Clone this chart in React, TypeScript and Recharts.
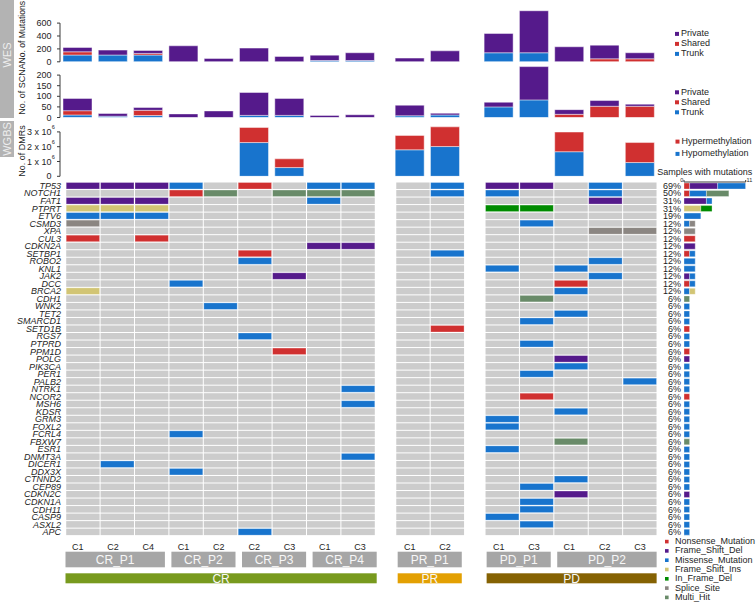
import React from 'react';
import { BarChart, Bar, XAxis, YAxis, ReferenceLine, ScatterChart, Scatter } from 'recharts';

const FONT = '"Liberation Sans", Arial, Helvetica, sans-serif';
const TEXT = '#1e1e1e';
const AXIS = '#3a3a3a';

// ---------------- data ----------------
const sampleLabels = ['C1', 'C2', 'C4', 'C1', 'C2', 'C2', 'C3', 'C1', 'C3', 'C1', 'C2', 'C1', 'C3', 'C1', 'C2', 'C3'];
const patientNames = ['CR_P1', 'CR_P2', 'CR_P3', 'CR_P4', 'PR_P1', 'PD_P1', 'PD_P2'];
const patientSizes = [3, 2, 2, 2, 2, 2, 3];
const responseNames = ['CR', 'PR', 'PD'];
const responseSizes = [9, 2, 5];
const responseColors = ['#789A1E', '#E3A002', '#856203'];

const wesTrunk = [105, 105, 105, 0, 0, 0, 0, 20, 20, 0, 0, 140, 140, 0, 0, 0];
const wesShared = [50, 0, 25, 0, 0, 0, 0, 0, 0, 0, 0, 0, 0, 0, 46, 46];
const wesPrivate = [67, 76, 46, 248, 52, 212, 83, 83, 120, 57, 170, 299, 651, 233, 212, 94];

const scnaTrunk = [12, 6, 9, 0, 0, 10, 10, 0, 0, 8, 12, 50, 83, 0, 0, 0];
const scnaShared = [20, 0, 25, 0, 0, 0, 0, 0, 0, 0, 0, 0, 0, 15, 53, 53];
const scnaPrivate = [58, 13, 13, 17, 31, 108, 80, 10, 13, 50, 8, 22, 157, 22, 27, 10];

const dmrHypo = [0, 0, 0, 0, 0, 2.28e6, 0.59e6, 0, 0, 1.79e6, 2.01e6, 0, 0, 1.66e6, 0, 0.93e6];
const dmrHyper = [0, 0, 0, 0, 0, 1.02e6, 0.59e6, 0, 0, 0.97e6, 1.33e6, 0, 0, 1.33e6, 0, 1.35e6];

const genes = [
  'TP53', 'NOTCH1', 'FAT1', 'PTPRT', 'ETV6', 'CSMD3', 'XPA', 'CUL3', 'CDKN2A', 'SETBP1', 'ROBO2', 'KNL1',
  'JAK2', 'DCC', 'BRCA2', 'CDH1', 'WNK2', 'TET2', 'SMARCD1', 'SETD1B', 'RGS7', 'PTPRD', 'PPM1D', 'POLG',
  'PIK3CA', 'PER1', 'PALB2', 'NTRK1', 'NCOR2', 'MSH6', 'KDSR', 'GRM3', 'FOXL2', 'FCRL4', 'FBXW7', 'ESR1',
  'DNMT3A', 'DICER1', 'DDX3X', 'CTNND2', 'CEP89', 'CDKN2C', 'CDKN1A', 'CDH11', 'CASP9', 'ASXL2', 'APC',
];

// one string per gene, one character per sample ('.' = no mutation)
const mutationRows = [
  'DDDM.N.MM.MDD.M.', '...NH.HHH.MM..M.', 'DDD....M......D.', 'III........FF...', 'MMM.............',
  'S...........M...', '..............SS', 'N.N.............', '.......DD.......', '.....N....M.....',
  '.....M........M.', '...........M.M..', '......D.......M.', '...M.........N..', 'I............M..',
  '............H...', '....M...........', '.............M..', '............M...', '..........N.....',
  '.....M..........', '............M...', '......N.........', '.............D..', '.............M..',
  '............M...', '...............M', '........M.......', '............N...', '........M.......',
  '.............M..', '...........M....', '...........M....', '...M............', '.............H..',
  '...........M....', '........M.......', '.M..............', '...M............', '.............M..',
  '............M...', '.............D..', '............M...', '............M...', '...........M....',
  '............M...', '.....M..........',
];

const mutationCodes = ['N', 'D', 'M', 'I', 'F', 'S', 'H'];
const mutationNames = ['Nonsense_Mutation', 'Frame_Shift_Del', 'Missense_Mutation', 'Frame_Shift_Ins', 'In_Frame_Del', 'Splice_Site', 'Multi_Hit'];
const mutationColors = ['#D03030', '#551A8B', '#1874CD', '#D2C574', '#008B00', '#8B8682', '#698B69'];

const PURPLE = '#551A8B';
const RED = '#D03030';
const BLUE = '#1874CD';
const BG = '#CCCCCC';

// ---------------- layout ----------------
const W = 756;
const groupOf: number[] = responseSizes.flatMap((n, g) => Array(n).fill(g));
const NS = sampleLabels.length;

const BAR_LEFT = 60;
const BAR_UNIT = 35.3;
const BAR_GAP = [0, 0.41, 0.93];
const BAR_DOMAIN = NS + BAR_GAP[2];
const barPos = (j: number) => j + 0.5 + BAR_GAP[groupOf[j]];
const barEdge = (j: number) => BAR_LEFT + (j + BAR_GAP[groupOf[j]]) * BAR_UNIT;

const GRID_LEFT = 65.7;
const GRID_UNIT = 34.4;
const GRID_GAP = 0.595;
const GRID_DOMAIN = NS + 2 * GRID_GAP;
const gridPos = (j: number) => j + 0.5 + GRID_GAP * groupOf[j];
const GRID_TOP = 182;
const ROW_H = 7.525;
const GRID_H = genes.length * ROW_H;

const colorOf: Record<string, string> = {};
mutationCodes.forEach((c, k) => { colorOf[c] = mutationColors[k]; });

const wesData = sampleLabels.map((_, j) => ({ pos: barPos(j), trunk: wesTrunk[j], shared: wesShared[j], priv: wesPrivate[j] }));
const scnaData = sampleLabels.map((_, j) => ({ pos: barPos(j), trunk: scnaTrunk[j], shared: scnaShared[j], priv: scnaPrivate[j] }));
const dmrData = sampleLabels.map((_, j) => ({ pos: barPos(j), hypo: dmrHypo[j], hyper: dmrHyper[j] }));

const cells = genes.flatMap((g, i) => mutationRows[i].split('').map((c, j) => ({ x: gridPos(j), y: i, code: c, gene: g })));

const geneCounts = genes.map((g, i) => {
  const o: any = { gene: g };
  mutationCodes.forEach((c) => { o[c] = mutationRows[i].split('').filter((ch) => ch === c).length; });
  return o;
});

const roundHalfEven = (v: number) => {
  const f = Math.floor(v);
  if (Math.abs(v - f - 0.5) < 1e-9) return f % 2 === 0 ? f : f + 1;
  return Math.round(v);
};
const pctOf: Record<string, string> = {};
genes.forEach((g, i) => {
  const n = mutationRows[i].split('').filter((ch) => ch !== '.').length;
  pctOf[g] = `${roundHalfEven((n / NS) * 100)}%`;
});

// ---------------- components ----------------
const numTick = { fontSize: 9, fill: TEXT, fontFamily: FONT };

const DmrTick = (p: any) => {
  const { x, y, payload } = p;
  const v = payload.value / 1e6;
  if (v === 0) {
    return <text x={x} y={y} dy="0.35em" textAnchor="end" fontSize={9} fill={TEXT} fontFamily={FONT}>0</text>;
  }
  return (
    <g fontFamily={FONT} fill={TEXT}>
      <text x={x} y={y} dy="0.35em" textAnchor="end" fontSize={9}>{`${v} x 10`}</text>
      <text x={x + 0.3} y={y - 2.5} textAnchor="start" fontSize={5.5}>6</text>
    </g>
  );
};

type Series = { key: string; color: string };

function StackPanel(props: {
  top: number; base: number; pxPerUnit: number; yMax: number; ticks: number[]; axisEnd: number;
  data: any[]; series: Series[]; tick: any;
}) {
  const { top, base, pxPerUnit, yMax, ticks, axisEnd, data, series, tick } = props;
  const plotTop = base - yMax * pxPerUnit;
  const bottomPad = 8;
  const height = base - top + bottomPad;
  const rightMargin = W - BAR_LEFT - BAR_DOMAIN * BAR_UNIT;
  return (
    <div style={{ position: 'absolute', left: 0, top }}>
      <BarChart width={W} height={height} data={data} margin={{ top: plotTop - top, right: rightMargin, bottom: bottomPad, left: 0 }}>
        <XAxis type="number" dataKey="pos" domain={[0, BAR_DOMAIN]} ticks={data.map((d) => d.pos)} hide allowDataOverflow />
        <YAxis
          type="number" domain={[0, yMax]} ticks={ticks} width={BAR_LEFT} allowDataOverflow interval={0}
          axisLine={false} tickLine={{ stroke: AXIS }} tickSize={3} tickMargin={5.5} tick={tick}
        />
        <ReferenceLine segment={[{ x: 0, y: 0 }, { x: 0, y: axisEnd }]} stroke={AXIS} ifOverflow="visible" />
        {series.map((s) => (
          <Bar key={s.key} dataKey={s.key} stackId="a" fill={s.color} stroke="#ffffff" strokeOpacity={0.45} strokeWidth={1} barSize={29} isAnimationActive={false} />
        ))}
      </BarChart>
    </div>
  );
}

const CellShape = (p: any) => {
  const { cx, cy, payload } = p;
  const w = GRID_UNIT - 1;
  const h = ROW_H - 1;
  const code = payload.code;
  const isMut = code !== '.';
  return (
    <rect
      x={cx - w / 2} y={cy - h / 2} width={w} height={h}
      fill={isMut ? colorOf[code] : BG}
      stroke={isMut ? '#ffffff' : 'none'} strokeOpacity={0.35} strokeWidth={0.8}
    />
  );
};

function Grid() {
  const top = 170;
  const height = 390;
  const mTop = GRID_TOP - top;
  const xAxisH = 20;
  const mBottom = height - mTop - GRID_H - xAxisH;
  const width = GRID_LEFT + GRID_DOMAIN * GRID_UNIT + 2;
  const labelTicks = sampleLabels.map((_, j) => (BAR_LEFT + barPos(j) * BAR_UNIT - GRID_LEFT) / GRID_UNIT);
  return (
    <div style={{ position: 'absolute', left: 0, top }}>
      <ScatterChart width={width} height={height} margin={{ top: mTop, right: 2, bottom: mBottom, left: 0 }}>
        <XAxis
          type="number" dataKey="x" domain={[0, GRID_DOMAIN]} allowDataOverflow ticks={labelTicks} interval={0}
          tickFormatter={(_v: any, i: number) => sampleLabels[i]} axisLine={false} tickLine={false}
          tickSize={0} tickMargin={8} height={xAxisH} tick={{ fontSize: 9, fill: TEXT, fontFamily: FONT }}
        />
        <YAxis
          type="number" dataKey="y" domain={[-0.5, genes.length - 0.5]} reversed allowDataOverflow
          ticks={genes.map((_, i) => i)} interval={0} tickFormatter={(v: number) => genes[v]}
          width={GRID_LEFT} axisLine={false} tickLine={false} tickSize={0} tickMargin={4.7}
          tick={{ fontSize: 9, fill: TEXT, fontFamily: FONT, fontStyle: 'italic' }}
        />
        <Scatter data={cells} shape={CellShape} isAnimationActive={false} />
      </ScatterChart>
    </div>
  );
}

const TopTick = (p: any) => {
  const { x, payload } = p;
  const isZero = payload.value === 0;
  return (
    <text x={isZero ? x - 0.8 : x + 0.8} y={11.5} textAnchor={isZero ? 'end' : 'start'} fontSize={5.5} fill={TEXT} fontFamily={FONT}>
      {payload.value}
    </text>
  );
};

function SideBars() {
  const left = 640;
  const top = 170;
  const width = 116;
  const height = 370;
  const yAxisW = 44;
  const plotW = 61.7;
  const xAxisH = 10;
  const mTop = GRID_TOP - top - xAxisH;
  const mBottom = height - (GRID_TOP - top) - GRID_H;
  return (
    <div style={{ position: 'absolute', left, top }}>
      <BarChart
        layout="vertical" width={width} height={height} data={geneCounts}
        margin={{ top: mTop, right: width - yAxisW - plotW, bottom: mBottom, left: 0 }} barCategoryGap={1}
      >
        <XAxis
          type="number" orientation="top" domain={[0, 11]} ticks={[0, 11]} allowDataOverflow height={xAxisH}
          axisLine={{ stroke: AXIS }} tickLine={{ stroke: AXIS }} tickSize={2} tick={<TopTick />} interval={0}
        />
        <YAxis
          type="category" dataKey="gene" width={yAxisW} interval={0} tickFormatter={(g: string) => pctOf[g]}
          axisLine={false} tickLine={false} tickSize={0} tickMargin={3}
          tick={{ fontSize: 9, fill: TEXT, fontFamily: FONT }}
        />
        {mutationCodes.map((c, k) => (
          <Bar key={c} dataKey={c} stackId="m" fill={mutationColors[k]} stroke="#ffffff" strokeOpacity={0.4} strokeWidth={0.8} isAnimationActive={false} />
        ))}
      </BarChart>
    </div>
  );
}

function LegendBlock({ x, y, step, items, markerDx = -6, size = 4 }: { x: number; y: number; step: number; items: { label: string; color: string }[]; markerDx?: number; size?: number }) {
  return (
    <g>
      {items.map((it, k) => (
        <g key={it.label}>
          <rect x={x + markerDx} y={y + k * step - size / 2 + 0.6} width={size} height={size} fill={it.color} />
          <text x={x} y={y + k * step} dominantBaseline="central" fontSize={9} fill={TEXT} fontFamily={FONT}>{it.label}</text>
        </g>
      ))}
    </g>
  );
}

function Overlay() {
  const patientSpans: { name: string; a: number; b: number }[] = [];
  let s = 0;
  patientNames.forEach((name, k) => { patientSpans.push({ name, a: s, b: s + patientSizes[k] - 1 }); s += patientSizes[k]; });
  const responseSpans: { name: string; a: number; b: number; color: string }[] = [];
  s = 0;
  responseNames.forEach((name, k) => { responseSpans.push({ name, a: s, b: s + responseSizes[k] - 1, color: responseColors[k] }); s += responseSizes[k]; });
  const spanX = (a: number, b: number) => [barEdge(a) + 5.5, barEdge(b) + BAR_UNIT - 1];

  const yTitle = (label: string, cy: number, fs = 9) => (
    <text transform={`translate(21.5,${cy}) rotate(-90)`} textAnchor="middle" dominantBaseline="central" fontSize={fs} fill={TEXT} fontFamily={FONT}>{label}</text>
  );

  return (
    <svg width={W} height={602} style={{ position: 'absolute', left: 0, top: 0, pointerEvents: 'none' }}>
      <rect x={0} y={0} width={14} height={118} fill="#B3B3B3" />
      <text transform="translate(7,55) rotate(-90)" textAnchor="middle" dominantBaseline="central" fontSize={11} fill="#EEEEEE" fontFamily={FONT}>WES</text>
      <rect x={0} y={121} width={14} height={36} fill="#B3B3B3" />
      <text transform="translate(7,139) rotate(-90)" textAnchor="middle" dominantBaseline="central" fontSize={11} fill="#EEEEEE" fontFamily={FONT}>WGBS</text>

      {yTitle('No. of Mutations', 32.2, 8.6)}
      {yTitle('No. of SCNA', 89)}
      {yTitle('No. of DMRs', 151)}

      <LegendBlock x={681} y={33.3} step={10} items={[{ label: 'Private', color: PURPLE }, { label: 'Shared', color: RED }, { label: 'Trunk', color: BLUE }]} />
      <LegendBlock x={681} y={91.7} step={10} items={[{ label: 'Private', color: PURPLE }, { label: 'Shared', color: RED }, { label: 'Trunk', color: BLUE }]} />
      <LegendBlock x={681.5} y={141} step={12.3} items={[{ label: 'Hypermethylation', color: RED }, { label: 'Hypomethylation', color: BLUE }]} />

      <text x={704.7} y={174.5} textAnchor="middle" fontSize={9} fill={TEXT} fontFamily={FONT}>Samples with mutations</text>

      {patientSpans.map((p) => {
        const [x0, x1] = spanX(p.a, p.b);
        return (
          <g key={p.name}>
            <rect x={x0} y={551.7} width={x1 - x0} height={15.6} fill="#A6A6A6" />
            <text x={(x0 + x1) / 2} y={559.5} textAnchor="middle" dominantBaseline="central" fontSize={12} fill="#F7F7F7" fontFamily={FONT}>{p.name}</text>
          </g>
        );
      })}
      {responseSpans.map((p) => {
        const [x0, x1] = spanX(p.a, p.b);
        return (
          <g key={p.name}>
            <rect x={x0} y={573.3} width={x1 - x0} height={10} fill={p.color} />
            <text x={(x0 + x1) / 2} y={578.5} textAnchor="middle" dominantBaseline="central" fontSize={12} fill="#F7F7F7" fontFamily={FONT}>{p.name}</text>
          </g>
        );
      })}

      <LegendBlock x={675} y={541} step={9.3} markerDx={-10} size={3.6}
        items={mutationNames.map((n, k) => ({ label: n, color: mutationColors[k] }))} />
    </svg>
  );
}

export default function App() {
  return (
    <div style={{ position: 'absolute', left: 0, top: 0, width: W, height: 602, background: '#ffffff', overflow: 'hidden', fontFamily: FONT }}>
      <StackPanel
        top={0} base={61.8} pxPerUnit={38.7 / 600} yMax={800} ticks={[0, 200, 400, 600]} axisEnd={600}
        data={wesData} tick={numTick}
        series={[{ key: 'trunk', color: BLUE }, { key: 'shared', color: RED }, { key: 'priv', color: PURPLE }]}
      />
      <StackPanel
        top={62} base={117.5} pxPerUnit={42.4 / 200} yMax={242} ticks={[0, 50, 100, 150, 200]} axisEnd={200}
        data={scnaData} tick={numTick}
        series={[{ key: 'trunk', color: BLUE }, { key: 'shared', color: RED }, { key: 'priv', color: PURPLE }]}
      />
      <StackPanel
        top={120} base={176.3} pxPerUnit={14.8 / 1e6} yMax={3.4e6} ticks={[0, 1e6, 2e6, 3e6]} axisEnd={3e6}
        data={dmrData} tick={<DmrTick />}
        series={[{ key: 'hypo', color: BLUE }, { key: 'hyper', color: RED }]}
      />
      <Grid />
      <SideBars />
      <Overlay />
    </div>
  );
}
